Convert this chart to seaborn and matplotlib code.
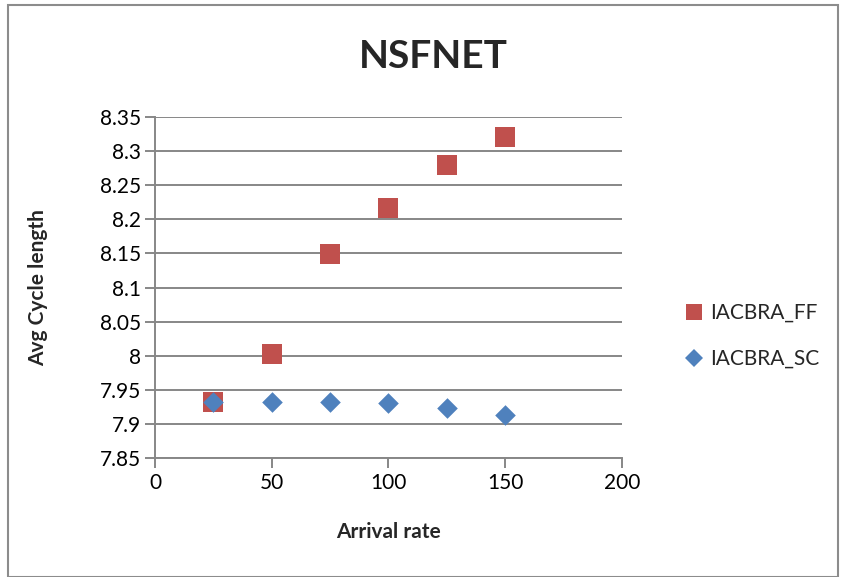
import matplotlib
matplotlib.use("Agg")
import matplotlib.pyplot as plt
import seaborn as sns
import pandas as pd
from matplotlib.patches import Rectangle
from matplotlib.lines import Line2D
from matplotlib.ticker import FuncFormatter

arrival = [25, 50, 75, 100, 125, 150]
iacbra_ff = [7.932, 8.002, 8.149, 8.217, 8.279, 8.321]
iacbra_sc = [7.932, 7.932, 7.932, 7.931, 7.924, 7.913]
series_names = ["IACBRA_FF", "IACBRA_SC"]
x_ticks = [0, 50, 100, 150, 200]
y_ticks = [7.85, 7.9, 7.95, 8.0, 8.05, 8.1, 8.15, 8.2, 8.25, 8.3, 8.35]

red = "#C0504D"
blue = "#4F81BD"

sns.set_theme(style="white")
plt.rcParams["font.family"] = ["Lato", "DejaVu Sans"]

fig = plt.figure(figsize=(8.45, 5.77), dpi=100)
ax = fig.add_axes([155/845, 1 - 458/577, (622-155)/845, (458-117)/577])

grid_c = "#878787"
for yv in y_ticks:
    ax.axhline(yv, color=grid_c, lw=1.4, zorder=0)

sns.scatterplot(x=arrival, y=iacbra_ff, marker="s", color=red, s=220,
                edgecolor=None, linewidth=0, ax=ax, zorder=3, legend=False)
sns.scatterplot(x=arrival, y=iacbra_sc, marker="D", color=blue, s=110,
                edgecolor=None, linewidth=0, ax=ax, zorder=4, legend=False)

ax.set_xlim(0, 200)
ax.set_ylim(7.85, 8.35)
ax.set_xticks(x_ticks)
ax.set_yticks(y_ticks)
ax.yaxis.set_major_formatter(FuncFormatter(lambda v, p: f"{v:g}"))
ax.tick_params(axis="both", labelsize=15, colors=grid_c, labelcolor="black",
               length=7, width=1.4, direction="out", bottom=True, left=True)
ax.tick_params(axis="x", pad=4)
ax.tick_params(axis="y", pad=3)
for s in ["top", "right"]:
    ax.spines[s].set_visible(False)
for s in ["left", "bottom"]:
    ax.spines[s].set_color(grid_c)
    ax.spines[s].set_linewidth(1.4)

ax.set_xlabel("Arrival rate", fontsize=15, fontweight="bold", labelpad=21)
ax.set_ylabel("Avg Cycle length", fontsize=15, fontweight="bold", labelpad=37)
fig.text(433/845, 1 - 57/577, "NSFNET", ha="center", va="center", fontsize=28, fontweight="bold")

handles = [
    Line2D([], [], linestyle="none", marker="s", color=red, markersize=12.2, markeredgewidth=0),
    Line2D([], [], linestyle="none", marker="D", color=blue, markersize=8.7, markeredgewidth=0),
]
fig.legend(handles, series_names, loc="center left", bbox_to_anchor=(684/845, 1 - 336/577),
           frameon=False, fontsize=15, handlelength=1.0, handletextpad=0.25,
           labelspacing=1.25, borderpad=0, borderaxespad=0)

fig.patches.append(Rectangle((8/845, 0), 830/845, 1 - 5/577, transform=fig.transFigure,
                             fill=False, edgecolor="#8c8c8c", lw=1.5))

fig.savefig("out.png", dpi=100)
